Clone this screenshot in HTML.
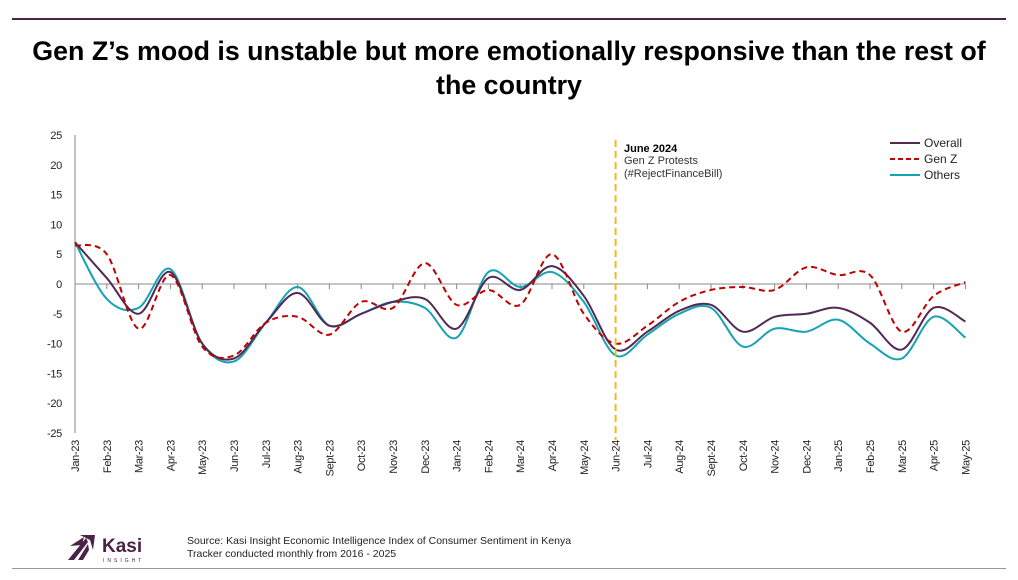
<!DOCTYPE html><html><head><meta charset="utf-8"><style>
body{margin:0;width:1018px;height:580px;background:#fff;font-family:"Liberation Sans",sans-serif;overflow:hidden;position:relative}
.t{position:absolute;top:34px;left:0;width:1018px;text-align:center;font-weight:bold;font-size:26.8px;line-height:34px;color:#000}
</style></head><body>
<div style="position:absolute;left:12px;top:18px;width:994px;height:2px;background:#4a2346"></div>
<div class="t">Gen Z’s mood is unstable but more emotionally responsive than the rest of<br>the country</div>
<svg id="c" width="1018" height="580" style="position:absolute;left:0;top:0" font-family="Liberation Sans, sans-serif"></svg>
<div style="position:absolute;left:12px;top:568px;width:994px;height:1px;background:#999"></div>
<script>
const s=document.getElementById('c');
const X=i=>75+31.8*i, Y=v=>284-v*5.96;
let h='';
h+='<line x1="75" y1="135" x2="75" y2="433" stroke="#888"/>';
for(let v=25;v>=-25;v-=5){h+=`<text x="62" y="${Y(v)+4}" font-size="11" text-anchor="end" fill="#222" letter-spacing="-0.3">${v}</text>`;}
h+=`<line x1="75" y1="284" x2="${X(28)}" y2="284" stroke="#888"/>`;
const m=['Jan-23','Feb-23','Mar-23','Apr-23','May-23','Jun-23','Jul-23','Aug-23','Sept-23','Oct-23','Nov-23','Dec-23','Jan-24','Feb-24','Mar-24','Apr-24','May-24','Jun-24','Jul-24','Aug-24','Sept-24','Oct-24','Nov-24','Dec-24','Jan-25','Feb-25','Mar-25','Apr-25','May-25'];
m.forEach((t,i)=>{h+=`<line x1="${X(i)}" y1="284" x2="${X(i)}" y2="289" stroke="#888"/>`;h+=`<text transform="translate(${X(i)+4},440) rotate(-90)" font-size="11" text-anchor="end" fill="#222" letter-spacing="-0.3">${t}</text>`;});
function p(d){let pts=d.map((v,i)=>[X(i),Y(v)]);let r=`M${pts[0]}`;for(let i=0;i<pts.length-1;i++){const a=pts[Math.max(i-1,0)],b=pts[i],c=pts[i+1],e=pts[Math.min(i+2,pts.length-1)];const k=6;r+=` C${b[0]+(c[0]-a[0])/k},${b[1]+(c[1]-a[1])/k} ${c[0]-(e[0]-b[0])/k},${c[1]-(e[1]-b[1])/k} ${c[0]},${c[1]}`;}return r;}
const ov=[7,1,-5,2,-10,-12.5,-6.5,-1.5,-7,-5,-3,-2.5,-7.5,1,-1,3,-2,-11,-8,-4.5,-3.5,-8,-5.5,-5,-4,-6.5,-11,-4,-6.3];
const gz=[6.5,5,-7.5,1.5,-10.5,-12,-6.5,-5.5,-8.5,-3,-4,3.5,-3.5,-1,-3.5,5,-5,-10,-7,-3,-1,-0.5,-1,2.8,1.5,1.5,-8,-2,0.3];
const ot=[7,-2.5,-4,2.5,-10,-13,-6.5,-0.5,-7,-5,-3,-4,-9,2,-0.5,2,-3,-12,-8.5,-5,-4,-10.5,-7.5,-8,-6,-10,-12.5,-5.5,-9];
h+=`<path d="${p(ot)}" fill="none" stroke="#14a3b3" stroke-width="2"/>`;
h+=`<path d="${p(ov)}" fill="none" stroke="#512a54" stroke-width="2"/>`;
h+=`<path d="${p(gz)}" fill="none" stroke="#c00000" stroke-width="2" stroke-dasharray="6,4"/>`;
h+=`<line x1="615.6" y1="140" x2="615.6" y2="440" stroke="#f5b920" stroke-width="2" stroke-dasharray="7,4"/>`;
h+=`<text x="624" y="152" font-size="11" font-weight="bold" fill="#000">June 2024</text><text x="624" y="164" font-size="11" fill="#333">Gen Z Protests</text><text x="624" y="177" font-size="11" fill="#333">(#RejectFinanceBill)</text>`;
[['Overall','#512a54',''],['Gen Z','#c00000','5,3'],['Others','#14a3b3','']].forEach((l,i)=>{const y=143+16*i;h+=`<line x1="890" y1="${y}" x2="920" y2="${y}" stroke="${l[1]}" stroke-width="2" stroke-dasharray="${l[2]}"/><text x="924" y="${y+4}" font-size="12" fill="#222">${l[0]}</text>`;});
h+=`<path d="M70,546 L84,537 L82,545 Z M68,560 L86,538 L88,542 L74,560 Z M78,560 L88,544 L89,550 L83,560 Z M80,535 L95,535 L93,550 L90,540 Z" fill="#4a2346"/>`;
h+=`<text x="102" y="552" font-size="19" font-weight="bold" fill="#4a2346">Kasi</text><text x="103" y="562" font-size="5" letter-spacing="3" fill="#4a2346">INSIGHT</text>`;
h+=`<text x="187" y="544" font-size="10.5" fill="#222">Source: Kasi Insight Economic Intelligence Index of Consumer Sentiment in  Kenya</text><text x="187" y="557" font-size="10.5" fill="#222">Tracker conducted monthly from 2016 - 2025</text>`;
s.innerHTML=h;
</script>
</body></html>
